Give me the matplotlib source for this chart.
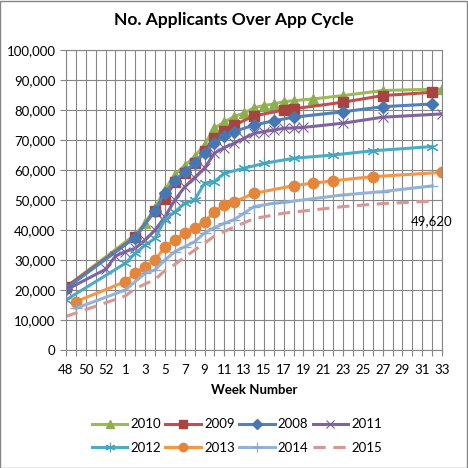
import matplotlib
matplotlib.use("Agg")
import matplotlib.pyplot as plt
from matplotlib.patches import Rectangle

plt.rcParams["font.family"] = ["Lato", "DejaVu Sans"]

# category axis: application-cycle week numbers
weeks = [48, 49, 50, 51, 52, 53, 1, 2, 3, 4, 5, 6, 7, 8, 9, 10, 11, 12, 13, 14, 15,
         16, 17, 18, 19, 20, 21, 22, 23, 24, 25, 26, 27, 28, 29, 30, 31, 32, 33]

wk_2010 = [48, 2, 3, 4, 5, 6, 7, 8, 9, 10, 11, 12, 13, 14, 15, 16, 17, 18, 20, 23, 27, 33]
n_2010 = [21000, 38500, 42300, 47500, 53500, 58500, 61500, 64500, 68500, 74000, 76000,
          77800, 79000, 80700, 81500, 82000, 82800, 83100, 83700, 84800, 86500, 87000]

wk_2009 = [48, 2, 4, 5, 6, 7, 8, 9, 10, 11, 12, 14, 17, 18, 23, 27, 32]
n_2009 = [21000, 37700, 46500, 50500, 56000, 59000, 62200, 66200, 70600, 73000, 75000,
          78000, 80000, 80400, 82600, 84800, 85900]

wk_2008 = [48, 2, 4, 5, 6, 7, 8, 9, 10, 11, 12, 14, 16, 18, 23, 27, 32]
n_2008 = [20500, 37500, 46500, 52500, 56300, 59500, 62200, 65800, 69000, 71300, 72800,
          75000, 76400, 77600, 79400, 81100, 82000]

wk_2011 = [48, 52, 53, 1, 2, 3, 4, 5, 6, 7, 8, 9, 10, 11, 12, 13, 14, 15, 16, 17, 18,
           19, 23, 27, 33]
n_2011 = [20000, 26900, 31300, 32800, 33900, 36700, 40000, 44400, 50000, 54400, 57500,
          60600, 65600, 67500, 68900, 70600, 72200, 72800, 73300, 73900, 74000, 74200,
          75600, 77600, 78700]

wk_2012 = [48, 1, 2, 3, 4, 5, 6, 7, 8, 9, 10, 11, 13, 15, 18, 22, 26, 32]
n_2012 = [16700, 28900, 32200, 35000, 37200, 43500, 46000, 48900, 50000, 55600, 56100,
          58900, 60600, 62200, 63900, 65000, 66400, 67800]

wk_2013 = [49, 1, 2, 3, 4, 5, 6, 7, 8, 9, 10, 11, 12, 14, 18, 20, 22, 26, 33]
n_2013 = [16100, 22800, 25600, 27800, 30000, 34400, 36700, 39000, 40800, 42800, 46100,
          48300, 49400, 52200, 54800, 55600, 56400, 57800, 59200]

wk_2014 = [49, 1, 3, 4, 5, 6, 7, 8, 9, 10, 11, 12, 13, 14, 16, 17, 23, 27, 32]
n_2014 = [13900, 20000, 25600, 26700, 30000, 32800, 34400, 36100, 39000, 40800, 42200,
          43500, 45600, 47800, 48900, 49200, 51700, 52800, 54700]

wk_2015 = [48, 1, 2, 3, 4, 5, 6, 7, 8, 9, 10, 11, 12, 14, 16, 17, 23, 27, 32]
n_2015 = [11200, 18000, 20500, 22000, 23500, 26500, 28500, 31000, 33300, 35600, 38000,
          39500, 41000, 43800, 45000, 45600, 47800, 48800, 49620]

# name, weeks, values, line colour, marker colour, marker, size, extra kwargs
series = [
    ("2010", wk_2010, n_2010, "#9BBB59", "#8DAE4C", "^", 7, {}),
    ("2009", wk_2009, n_2009, "#C0504D", "#A8433F", "s", 7, {}),
    ("2008", wk_2008, n_2008, "#4F81BD", "#4677B2", "D", 6, {}),
    ("2011", wk_2011, n_2011, "#8064A2", "#7A5E9C", "x", 6.5, {"markeredgewidth": 0.8}),
    ("2012", wk_2012, n_2012, "#4BACC6", "#45A2BB", (6, 2, 0), 8.5, {"markeredgewidth": 0.8}),
    ("2013", wk_2013, n_2013, "#F79646", "#E3853A", "o", 7.5, {}),
    ("2014", wk_2014, n_2014, "#95B3D7", "#8AA8CF", "+", 8.5, {"markeredgewidth": 0.9}),
    ("2015", wk_2015, n_2015, "#D99694", "#D99694", None, 0, {"linestyle": (0, (4, 2.5))}),
]

fig = plt.figure(figsize=(4.68, 4.68), dpi=100)
ax = fig.add_axes([66 / 468, 118 / 468, 376 / 468, 300 / 468])

handles = []
for name, wk, vals, col, mcol, mk, ms, extra in series:
    xs = [weeks.index(w) for w in wk]
    h, = ax.plot(xs, vals, color=col, lw=2.2, marker=mk, markersize=ms,
                 markerfacecolor=mcol, markeredgecolor=mcol, label=name, **extra)
    handles.append(h)

# data label on the last 2015 point
ax.annotate(f"{n_2015[-1]:,}", (weeks.index(wk_2015[-1]), n_2015[-1]),
            textcoords="offset points", xytext=(0, -14.5), ha="center", va="center",
            fontsize=9.5)

ax.set_xlim(0, len(weeks) - 1)
ax.set_ylim(0, 100000)
ax.set_xticks(range(len(weeks)))
ax.set_xticklabels([str(w) if i % 2 == 0 else "" for i, w in enumerate(weeks)])
ax.set_yticks(range(0, 100001, 10000))
ax.set_yticklabels([f"{v:,}" for v in range(0, 100001, 10000)])
ax.tick_params(axis="both", labelsize=9.5, color="#868686", length=4, width=0.8)
ax.tick_params(axis="x", pad=6)
ax.grid(True, color="#868686", linewidth=0.8)
ax.set_axisbelow(True)
for sp in ax.spines.values():
    sp.set_color("#868686")
    sp.set_linewidth(0.8)

ax.set_xlabel("Week Number", fontsize=9.5, fontweight="bold", labelpad=6)
fig.text(0.5, 1 - 20 / 468, "No. Applicants Over App Cycle", ha="center", va="center",
         fontsize=12.5, fontweight="bold")

# legend fills column by column, so reorder to read row by row
order = [0, 4, 1, 5, 2, 6, 3, 7]
fig.legend([handles[i] for i in order], [series[i][0] for i in order],
           loc="center", bbox_to_anchor=(237 / 468, 1 - 436 / 468), ncol=4,
           frameon=False, fontsize=9.5, handlelength=2.7, handletextpad=0.25,
           columnspacing=0.3, labelspacing=0.85, borderpad=0, markerscale=0.8)

fig.patches.append(Rectangle((0.001, 0.001), 0.997, 0.997, transform=fig.transFigure,
                             fill=False, edgecolor="#868686", lw=1))

fig.savefig("out.png", dpi=100)
